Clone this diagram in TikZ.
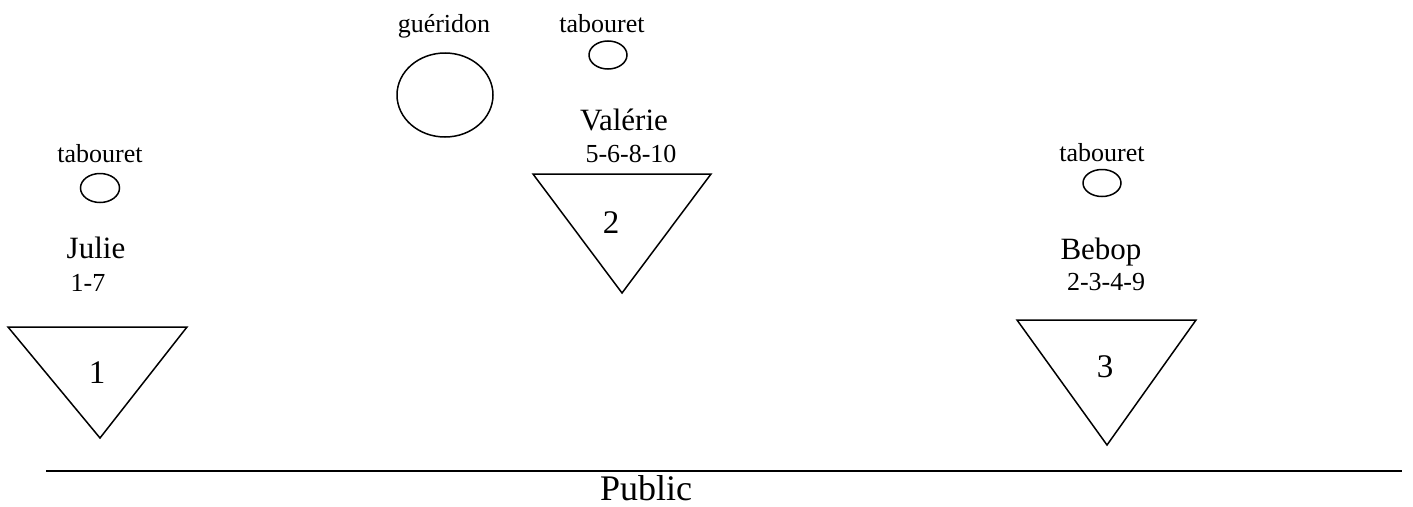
\documentclass[tikz,border=0pt]{standalone}
\usepackage{fontspec}
\setmainfont{Liberation Serif}
\usetikzlibrary{shapes.geometric}
\tikzset{
  smalltext/.style={inner sep=0pt, anchor=base, font=\fontsize{26}{30}\selectfont},
  nametext/.style={inner sep=0pt, anchor=base, font=\fontsize{31}{36}\selectfont},
  digittext/.style={inner sep=0pt, anchor=base, font=\fontsize{33}{38}\selectfont},
  seat/.style={draw, line width=1.5pt, ellipse, inner sep=0pt},
  stage/.style={draw, line width=1.5pt, line join=miter},
}
\begin{document}
\begin{tikzpicture}[x=1pt,y=-1pt]
\useasboundingbox (0,0) rectangle (1413,506);
% gueridon
\node[smalltext] (gtxt) at (444,32) {guéridon};
\node[seat, minimum width=96pt, minimum height=84pt] (gueridon) at (445,95) {};
% Valerie
\node[smalltext] (t2txt) at (602,32) {tabouret};
\node[seat, minimum width=38pt, minimum height=28pt] (t2) at (608,55) {};
\node[nametext] (valerie) at (624,130) {Valérie};
\node[smalltext] (n2) at (631,162) {5-6-8-10};
\draw[stage] (533,174) coordinate (a2) -- (711,174) coordinate (b2) -- (622,293) coordinate (c2) -- cycle;
\node[digittext] (d2) at (611,233) {2};
% Julie
\node[smalltext] (t1txt) at (100,162) {tabouret};
\node[seat, minimum width=39pt, minimum height=29pt] (t1) at (100,188) {};
\node[nametext] (julie) at (96,258) {Julie};
\node[smalltext] (n1) at (88,291) {1-7};
\draw[stage] (8,327) coordinate (a1) -- (187,327) coordinate (b1) -- (100,438) coordinate (c1) -- cycle;
\node[digittext] (d1) at (97,383) {1};
% Bebop
\node[smalltext] (t3txt) at (1102,161) {tabouret};
\node[seat, minimum width=38pt, minimum height=27pt] (t3) at (1102,183) {};
\node[nametext] (bebop) at (1101,259) {Bebop};
\node[smalltext] (n3) at (1106,290) {2-3-4-9};
\draw[stage] (1017,320) coordinate (a3) -- (1196,320) coordinate (b3) -- (1107,445) coordinate (c3) -- cycle;
\node[digittext] (d3) at (1105,377) {3};
% public line
\coordinate (l1) at (46,471);
\coordinate (l2) at (1402,471);
\draw[line width=2pt] (l1) -- (l2);
\node[inner sep=0pt, anchor=base, font=\fontsize{36}{40}\selectfont] (public) at (646,500) {Public};
\end{tikzpicture}
\end{document}
